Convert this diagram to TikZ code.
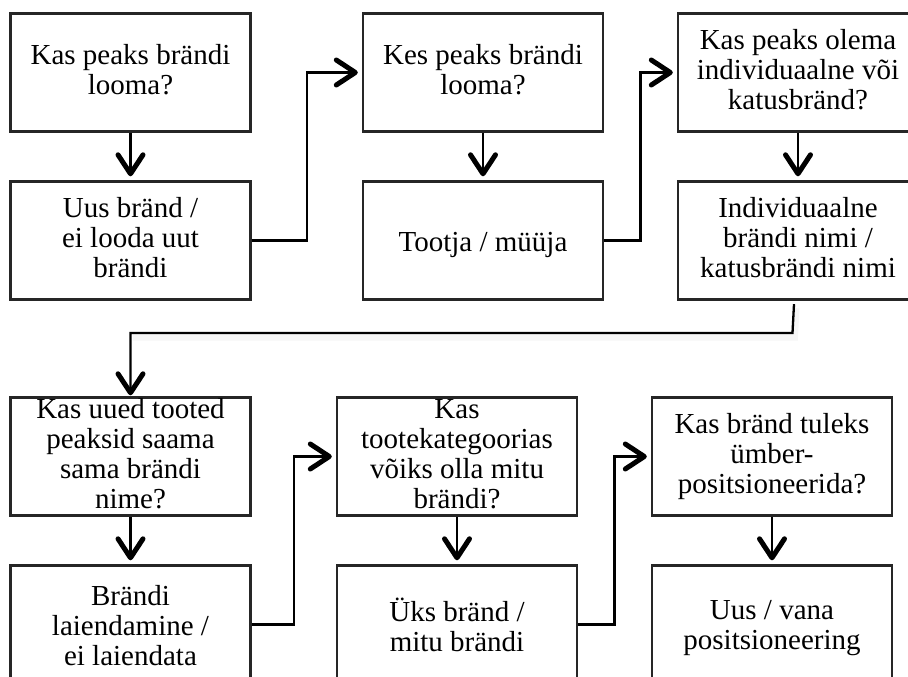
\documentclass[tikz,border=0pt]{standalone}
\usepackage{fontspec}
\setmainfont{Liberation Serif}
\usetikzlibrary{arrows.meta,calc}
% fixed line box: 24.5pt above the baseline, 5.5pt below
\newcommand{\linebox}{\rule[-5.5pt]{0pt}{30pt}}
\begin{document}
\begin{tikzpicture}[x=1pt,y=-1pt,
  stepbox/.style={draw=black!85, line width=2.4pt, fill=white,
    minimum width=240pt, minimum height=118pt, inner sep=0pt},
  boxtext/.style={inner sep=0pt, align=center,
    font=\fontsize{29pt}{30pt}\selectfont,
    execute at begin node=\linebox, execute at end node=\linebox},
  flow/.style={draw=black, line width=2.3pt, line join=miter,
    -{Straight Barb[length=19pt,width=25pt,line width=5pt,round]},
    shorten >=4pt},
  shadowline/.style={draw=black, line width=7pt, opacity=0.035},
]
\useasboundingbox (0,0) rectangle (908,677);
\clip (0,0) rectangle (908,677);

% first row of decisions
\node[stepbox] (A) at (130.5,72.5)  {};
\node[stepbox] (B) at (130.5,240.5) {};
\node[stepbox] (C) at (483,72.5)    {};
\node[stepbox] (D) at (483,240.5)   {};
\node[stepbox] (E) at (798,72.5)    {};
\node[stepbox] (F) at (798,240.5)   {};

\node[boxtext] (At) at (A.center) {Kas peaks brändi\\looma?};
\node[boxtext] (Bt) at (B.center) {Uus bränd /\\ei looda uut\\brändi};
\node[boxtext] (Ct) at (C.center) {Kes peaks brändi\\looma?};
\node[boxtext] (Dt) at ([yshift=-1.5pt]D.center) {Tootja / müüja};
\node[boxtext] (Et) at (E.center) {Kas peaks olema\\individuaalne või\\katusbränd?};
\node[boxtext] (Ft) at (F.center) {Individuaalne\\brändi nimi /\\katusbrändi nimi};

% second row of decisions
\node[stepbox] (G) at (130.5,456.5) {};
\node[stepbox] (H) at (130.5,624.5) {};
\node[stepbox] (I) at (457,456.5)   {};
\node[stepbox] (J) at (457,624.5)   {};
\node[stepbox] (K) at (772,456.5)   {};
\node[stepbox] (L) at (772,624.5)   {};

\node[boxtext] (Gt) at (G.center) {Kas uued tooted\\peaksid saama\\sama brändi\\nime?};
\node[boxtext] (Ht) at ([yshift=-4pt]H.center) {Brändi\\laiendamine /\\ei laiendata};
\node[boxtext] (It) at (I.center) {Kas\\tootekategoorias\\võiks olla mitu\\brändi?};
\node[boxtext] (Jt) at ([yshift=-3pt]J.center) {Üks bränd /\\mitu brändi};
\node[boxtext] (Kt) at (K.center) {Kas bränd tuleks\\ümber-\\positsioneerida?};
\node[boxtext] (Lt) at ([yshift=-4pt]L.center) {Uus / vana\\positsioneering};

% question -> answer
\draw[flow] (A) -- (B);
\draw[flow] (C) -- (D);
\draw[flow] (E) -- (F);
\draw[flow] (G) -- (H);
\draw[flow] (I) -- (J);
\draw[flow] (K) -- (L);

% answer -> next question
\draw[flow] (B.east) -| ($(B.east)!.5!(C.west)$) |- (C.west);
\draw[flow] (D.east) -| ($(D.east)!.5!(E.west)$) |- (E.west);
\draw[flow] (H.east) -| ($(H.east)!.5!(I.west)$) |- (I.west);
\draw[flow] (J.east) -| ($(J.east)!.5!(K.west)$) |- (K.west);

% link from the first row down to the second
\coordinate (Fout) at ([xshift=-4pt,yshift=-3.5pt]F.south);
\coordinate (Fbend) at (792.5,333);
\draw[shadowline] ([shift={(2pt,-4pt)}]Fout) -- ([shift={(2pt,-4pt)}]Fbend) -- ([shift={(2pt,-4pt)}]Fbend -| G.north);
\draw[flow, shorten >=1pt] (Fout) -- (Fbend) -| (G.north);
\end{tikzpicture}
\end{document}
